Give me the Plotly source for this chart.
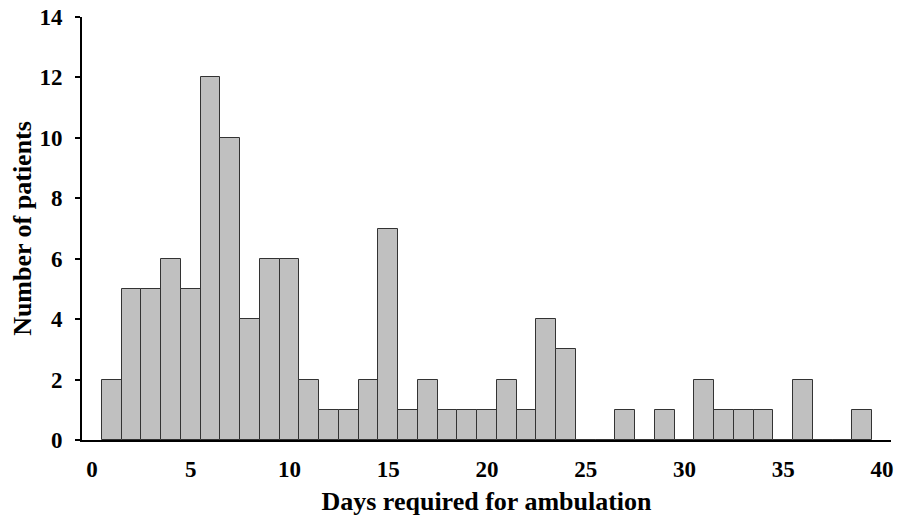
import plotly.graph_objects as go

days = list(range(1, 40))
patients = [2, 5, 5, 6, 5, 12, 10, 4, 6, 6,
            2, 1, 1, 2, 7, 1, 2, 1, 1, 1,
            2, 1, 4, 3, 0, 0, 1, 0, 1, 0,
            2, 1, 1, 1, 0, 2, 0, 0, 1]
x_ticks = [0, 5, 10, 15, 20, 25, 30, 35, 40]
y_ticks = [0, 2, 4, 6, 8, 10, 12, 14]

font_family = "Liberation Serif, Times New Roman, serif"

fig = go.Figure(go.Bar(
    x=days, y=patients, width=1,
    marker=dict(color="#C0C0C0", line=dict(color="#333333", width=1)),
    showlegend=False,
))

fig.update_layout(
    width=887, height=509,
    margin=dict(l=74, r=4, t=9, b=77),
    paper_bgcolor="white", plot_bgcolor="white",
    font=dict(family=font_family, color="black"),
    bargap=0,
)
fig.update_xaxes(
    range=[-0.5, 40.45], tickmode="array", tickvals=x_ticks,
    ticks="", ticklabelstandoff=7, ticklabeloverflow="allow",
    showline=True, linecolor="black", linewidth=2,
    showgrid=False, zeroline=False, automargin=False,
    tickfont=dict(size=23, family=font_family, weight="bold"),
    title=dict(text="<b>Days required for ambulation</b>", font=dict(size=26), standoff=11),
)
fig.update_yaxes(
    range=[0, 14], tickmode="array", tickvals=y_ticks,
    ticks="outside", ticklen=5, tickcolor="black", tickwidth=2,
    ticklabelstandoff=8, ticklabeloverflow="allow",
    showline=True, linecolor="black", linewidth=2,
    showgrid=False, zeroline=False, automargin=False,
    tickfont=dict(size=23, family=font_family, weight="bold"),
    title=dict(text="<b>Number of patients</b>", font=dict(size=26), standoff=8),
)

fig.write_html("out.html")
